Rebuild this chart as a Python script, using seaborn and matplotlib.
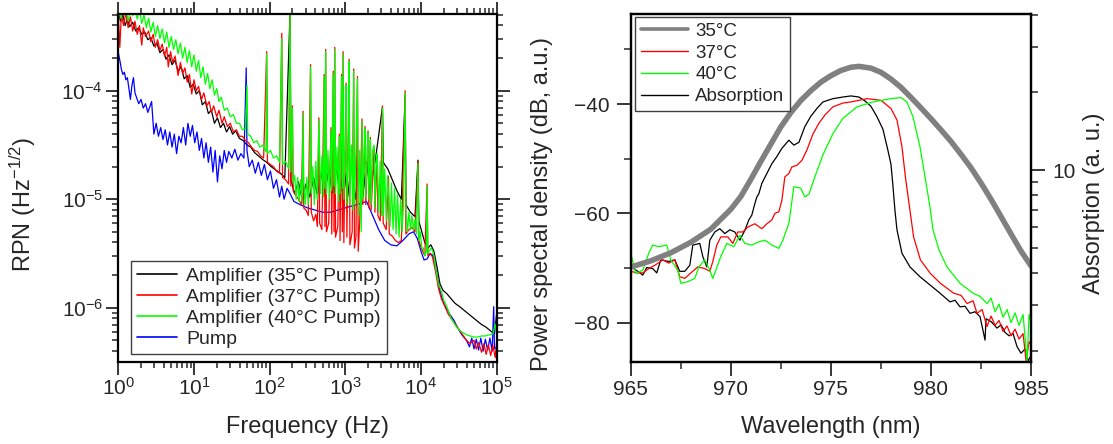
import numpy as np
import matplotlib
matplotlib.use('Agg')
import matplotlib.pyplot as plt
import matplotlib.ticker as mticker
from matplotlib.lines import Line2D
import seaborn as sns

# ---------------- left panel: RPN spectra as log10 values ----------------
amp35_logf = [0.00, 0.03, 0.06, 0.09, 0.12, 0.15, 0.19, 0.23, 0.27, 0.31, 0.35, 0.39, 0.43, 0.47, 0.51,
              0.55, 0.59, 0.63, 0.67, 0.71, 0.75, 0.79, 0.83, 0.87, 0.91, 0.95, 0.99, 1.03, 1.07, 1.11,
              1.15, 1.19, 1.23, 1.27, 1.31, 1.35, 1.39, 1.43, 1.47, 1.51, 1.55, 1.60, 1.65, 1.70, 1.75,
              1.80, 1.85, 1.90, 1.96, 2.02, 2.08, 2.14, 2.20, 2.27, 2.28, 2.33, 2.38, 2.43, 2.48, 2.53,
              2.58, 2.63, 2.68, 2.73, 2.78, 2.83, 2.88, 2.93, 2.98, 3.03, 3.08, 3.13, 3.18, 3.23, 3.28,
              3.33, 3.40, 3.49, 3.50, 3.56, 3.62, 3.68, 3.74, 3.79, 3.80,
              3.86, 3.92, 3.96, 3.97, 4.01, 4.05, 4.09, 4.13, 4.17, 4.21, 4.25, 4.29, 4.34, 4.40, 4.45,
              4.51, 4.58, 4.65, 4.72, 4.79, 4.86, 4.93, 4.97, 5.00]
amp35_logrpn = [-3.28, -3.36, -3.30, -3.40, -3.34, -3.41, -3.37, -3.45, -3.42, -3.48, -3.46, -3.53, -3.51, -3.59, -3.56,
                -3.65, -3.62, -3.71, -3.67, -3.76, -3.72, -3.82, -3.78, -3.89, -3.86, -3.97, -3.94, -4.03, -4.00, -4.13,
                -4.10, -4.21, -4.18, -4.30, -4.25, -4.34, -4.30, -4.38, -4.33, -4.40, -4.37, -4.44, -4.46, -4.50, -4.52,
                -4.57, -4.60, -4.63, -4.66, -4.70, -4.73, -4.76, -4.80, -3.25, -4.82, -4.95, -4.84, -5.00, -4.86, -4.98,
                -4.80, -4.96, -4.76, -4.95, -4.72, -4.94, -4.70, -4.96, -4.70, -4.98, -4.68, -5.00, -4.70, -4.98, -4.66,
                -4.90, -4.62, -4.15, -4.66, -4.72, -4.82, -4.92, -5.00, -4.05, -5.05,
                -5.12, -5.16, -4.64, -5.20, -5.30, -5.40, -5.45, -5.42, -5.48, -5.62, -5.78, -5.84, -5.87, -5.92, -5.96,
                -5.99, -6.03, -6.07, -6.11, -6.15, -6.18, -6.22, -6.24, -6.05]

pump_logf = [0.00, 0.02, 0.04, 0.06, 0.08, 0.10, 0.12, 0.14, 0.16, 0.18, 0.20, 0.22, 0.24, 0.27, 0.30,
             0.33, 0.36, 0.39, 0.42, 0.44, 0.47, 0.50, 0.53, 0.56, 0.59, 0.62, 0.65, 0.68, 0.71, 0.74,
             0.77, 0.80, 0.83, 0.86, 0.89, 0.92, 0.95, 0.98, 1.01, 1.04, 1.07, 1.10, 1.13, 1.16, 1.19,
             1.22, 1.25, 1.28, 1.31, 1.34, 1.37, 1.40, 1.43, 1.46, 1.50, 1.54, 1.58, 1.62, 1.66, 1.69,
             1.70, 1.73, 1.77, 1.81, 1.85, 1.89, 1.93, 1.97, 2.01, 2.05, 2.09, 2.13, 2.16, 2.19, 2.23,
             2.27, 2.32, 2.40, 2.50, 2.60, 2.70, 2.80, 2.90, 3.00, 3.10, 3.20, 3.28, 3.36, 3.44, 3.52,
             3.60, 3.68, 3.76, 3.84, 3.90, 3.95, 4.00, 4.04, 4.08, 4.12, 4.16, 4.20, 4.24, 4.28, 4.33,
             4.38, 4.43, 4.48, 4.54, 4.60, 4.64, 4.67, 4.70, 4.73, 4.76, 4.79, 4.82, 4.85, 4.88, 4.91,
             4.94, 4.96, 4.97, 5.00]
pump_logrpn = [-3.65, -3.72, -3.80, -3.85, -3.83, -3.90, -3.88, -3.98, -4.08, -3.95, -3.88, -4.02, -4.06, -4.12, -4.08,
               -4.16, -4.12, -4.20, -4.14, -4.10, -4.40, -4.30, -4.42, -4.34, -4.45, -4.36, -4.50, -4.38, -4.52, -4.40,
               -4.58, -4.42, -4.48, -4.34, -4.50, -4.30, -4.42, -4.32, -4.48, -4.38, -4.55, -4.44, -4.62, -4.48, -4.66,
               -4.52, -4.75, -4.55, -4.84, -4.60, -4.72, -4.55, -4.66, -4.56, -4.62, -4.54, -4.64, -4.58, -4.62, -3.79,
               -4.55, -4.70, -4.64, -4.76, -4.66, -4.78, -4.68, -4.82, -4.74, -4.90, -4.82, -4.98, -4.88, -5.00, -4.90,
               -4.95, -5.02, -5.05, -5.08, -5.10, -5.12, -5.12, -5.10, -5.08, -5.06, -5.04, -5.02, -5.15, -5.28, -5.38,
               -5.42, -5.43, -5.38, -5.32, -5.30, -5.36, -5.48, -5.56, -5.55, -5.50, -5.52, -5.66, -5.82, -5.92, -6.00,
               -6.06, -6.11, -6.18, -6.25, -6.30, -6.36, -6.28, -6.38, -6.29, -6.39, -6.28, -6.40, -6.29, -6.39, -6.28,
               -6.40, -5.99, -6.38, -6.36]

amp37_logf = [0.00, 0.02, 0.04, 0.07, 0.10, 0.13, 0.16, 0.19, 0.22, 0.25, 0.28, 0.31, 0.33, 0.36, 0.40,
              0.43, 0.46, 0.49, 0.52, 0.55, 0.58, 0.61, 0.64, 0.66, 0.69, 0.72, 0.75, 0.79, 0.82, 0.85,
              0.88, 0.91, 0.94, 0.97, 1.00, 1.03, 1.06, 1.10, 1.13, 1.17, 1.20, 1.23, 1.26, 1.30, 1.33,
              1.37, 1.40, 1.44, 1.48, 1.52, 1.56, 1.60, 1.64, 1.68, 1.72, 1.76, 1.80, 1.84, 1.88, 1.92,
              1.96, 1.97, 2.01, 2.05, 2.09, 2.13, 2.16, 2.17, 2.21, 2.25, 2.27, 2.28, 2.30, 2.31, 2.34,
              2.38, 2.42, 2.44, 2.45, 2.48, 2.51, 2.54, 2.55, 2.58, 2.61, 2.63, 2.65, 2.66, 2.69, 2.72,
              2.73, 2.74, 2.75, 2.78, 2.81, 2.82, 2.84, 2.85, 2.86, 2.87, 2.90, 2.92, 2.93, 2.95, 2.96,
              2.97, 2.98, 3.01, 3.02, 3.05, 3.06, 3.09, 3.11, 3.12, 3.14, 3.16, 3.17, 3.19, 3.22, 3.23,
              3.26, 3.27, 3.30, 3.31, 3.33, 3.34, 3.38, 3.39, 3.42, 3.43, 3.46, 3.49, 3.50, 3.54, 3.57,
              3.58, 3.62, 3.66, 3.70, 3.74, 3.79, 3.80, 3.84, 3.88, 3.92, 3.96, 3.97, 4.01, 4.05, 4.08,
              4.09, 4.12, 4.15, 4.19, 4.23, 4.27, 4.31, 4.36, 4.42, 4.48, 4.54, 4.60, 4.65, 4.70, 4.73,
              4.76, 4.80, 4.83, 4.86, 4.89, 4.92, 4.95, 4.98, 5.00]
amp37_logrpn = [-3.30, -3.60, -3.30, -3.40, -3.28, -3.42, -3.32, -3.45, -3.36, -3.48, -3.40, -3.58, -3.42, -3.50, -3.45,
                -3.55, -3.48, -3.60, -3.53, -3.63, -3.57, -3.68, -3.60, -3.78, -3.64, -3.74, -3.68, -3.86, -3.74, -3.84,
                -3.79, -3.92, -3.85, -4.03, -3.90, -4.00, -3.96, -4.08, -4.02, -4.14, -4.10, -4.20, -4.14, -4.24, -4.18,
                -4.30, -4.24, -4.33, -4.30, -4.38, -4.36, -4.42, -4.42, -4.46, -4.48, -4.52, -4.55, -4.56, -4.60, -4.62,
                -3.64, -4.66, -4.68, -4.70, -4.74, -4.76, -3.47, -4.80, -4.82, -4.86, -3.20, -4.88, -4.14, -4.92, -4.96,
                -5.00, -5.05, -4.19, -5.08, -5.10, -5.15, -3.76, -5.12, -5.20, -5.14, -5.25, -4.25, -5.22, -5.28, -3.85,
                -5.25, -3.62, -5.30, -5.22, -4.34, -5.32, -3.82, -5.30, -3.60, -5.35, -5.25, -4.40, -5.38, -3.85, -5.30,
                -3.64, -5.40, -3.93, -5.35, -3.71, -5.42, -5.30, -3.80, -5.45, -5.35, -3.87, -5.48, -5.20, -4.26, -5.05,
                -4.33, -5.05, -4.37, -5.08, -4.43, -5.10, -4.53, -5.12, -4.59, -5.15, -5.20, -4.14, -5.22, -5.28, -4.79,
                -5.32, -5.34, -5.38, -5.40, -5.38, -4.00, -5.32, -5.28, -5.26, -5.30, -4.65, -5.38, -5.46, -5.52, -4.86,
                -5.52, -5.50, -5.53, -5.66, -5.82, -5.92, -5.98, -6.06, -6.12, -6.18, -6.24, -6.30, -6.33, -6.30, -6.38,
                -6.32, -6.41, -6.33, -6.43, -6.34, -6.44, -6.35, -6.46, -6.30]

amp40_logf = [0.00, 0.02, 0.04, 0.06, 0.08, 0.10, 0.13, 0.16, 0.19, 0.22, 0.25, 0.28, 0.31, 0.34, 0.37,
              0.40, 0.43, 0.46, 0.49, 0.52, 0.55, 0.58, 0.61, 0.64, 0.67, 0.70, 0.73, 0.76, 0.79, 0.82,
              0.85, 0.88, 0.91, 0.94, 0.97, 1.00, 1.03, 1.06, 1.09, 1.12, 1.15, 1.18, 1.21, 1.24, 1.27,
              1.30, 1.33, 1.36, 1.40, 1.44, 1.48, 1.52, 1.56, 1.60, 1.64, 1.68, 1.70, 1.71, 1.75, 1.79,
              1.83, 1.87, 1.91, 1.95, 1.96, 1.97, 2.01, 2.05, 2.09, 2.13, 2.16, 2.17, 2.21, 2.25, 2.27,
              2.28, 2.30, 2.31, 2.33, 2.35, 2.37, 2.39, 2.41, 2.43, 2.44, 2.45, 2.47, 2.49, 2.51, 2.53,
              2.54, 2.55, 2.57, 2.59, 2.61, 2.63, 2.65, 2.67, 2.69, 2.71, 2.72, 2.73, 2.74, 2.75, 2.77,
              2.79, 2.81, 2.82, 2.84, 2.85, 2.86, 2.87, 2.89, 2.91, 2.92, 2.93, 2.95, 2.96, 2.97, 2.98,
              3.00, 3.01, 3.02, 3.04, 3.05, 3.06, 3.08, 3.10, 3.11, 3.12, 3.14, 3.16, 3.17, 3.19, 3.21,
              3.22, 3.23, 3.25, 3.26, 3.27, 3.29, 3.30, 3.31, 3.33, 3.34, 3.36, 3.38, 3.39, 3.41, 3.42,
              3.44, 3.46, 3.48, 3.49, 3.50, 3.52, 3.54, 3.56, 3.59, 3.61, 3.63, 3.65, 3.67, 3.69, 3.71,
              3.73, 3.75, 3.77, 3.79, 3.80, 3.82, 3.84, 3.86, 3.88, 3.90, 3.92, 3.94, 3.96, 3.97, 3.99,
              4.01, 4.03, 4.05, 4.07, 4.08, 4.09, 4.11, 4.13, 4.15, 4.17, 4.19, 4.23, 4.27, 4.30, 4.34,
              4.40, 4.47, 4.53, 4.60, 4.65, 4.70, 4.75, 4.80, 4.85, 4.90, 4.95, 4.98, 5.00]
amp40_logrpn = [-3.35, -3.25, -3.33, -3.22, -3.30, -3.24, -3.36, -3.25, -3.31, -3.24, -3.34, -3.26, -3.38, -3.30, -3.42,
                -3.33, -3.46, -3.37, -3.50, -3.40, -3.52, -3.43, -3.56, -3.46, -3.60, -3.50, -3.62, -3.53, -3.66, -3.56,
                -3.70, -3.60, -3.74, -3.63, -3.78, -3.67, -3.82, -3.72, -3.88, -3.78, -3.94, -3.84, -3.98, -3.90, -4.04,
                -3.98, -4.10, -4.06, -4.18, -4.16, -4.24, -4.22, -4.30, -4.30, -4.36, -4.35, -3.95, -4.40, -4.42, -4.48,
                -4.46, -4.52, -4.50, -4.56, -3.66, -4.58, -4.55, -4.62, -4.60, -4.66, -3.52, -4.68, -4.65, -4.72, -3.20,
                -4.75, -4.16, -4.85, -4.78, -5.00, -4.80, -5.02, -4.82, -5.04, -4.21, -4.85, -5.05, -4.80, -5.05, -4.75,
                -3.78, -4.95, -4.70, -5.05, -4.65, -5.00, -4.27, -4.95, -4.60, -4.98, -3.87, -4.90, -3.64, -4.95, -4.55,
                -5.00, -4.36, -4.92, -3.84, -4.88, -3.62, -4.95, -4.52, -5.02, -4.42, -4.95, -3.87, -4.90, -3.66, -5.00,
                -4.50, -3.95, -5.05, -4.55, -3.73, -5.05, -4.50, -5.10, -3.82, -5.05, -4.55, -3.89, -5.15, -4.55, -5.30,
                -4.28, -5.00, -4.52, -4.35, -4.98, -4.55, -4.39, -5.00, -4.45, -5.05, -4.55, -4.50, -5.08, -4.60, -4.58,
                -5.12, -4.65, -5.15, -4.16, -5.15, -4.72, -5.20, -4.78, -5.25, -4.85, -5.28, -4.90, -5.32, -4.95, -5.35,
                -5.00, -5.30, -5.02, -4.02, -5.10, -5.30, -5.12, -5.28, -5.15, -5.28, -5.18, -5.32, -4.67, -5.38, -5.30,
                -5.45, -5.45, -5.52, -5.48, -4.88, -5.50, -5.48, -5.45, -5.47, -5.52, -5.62, -5.78, -5.85, -5.93, -5.99,
                -6.10, -6.18, -6.22, -6.25, -6.26, -6.27, -6.27, -6.26, -6.26, -6.25, -6.24, -6.15, -6.25]

# ---------------- right panel: emission spectra (dB) and absorption (a. u.) ----------------
t35_wl = [965.0, 965.4, 965.6, 965.8, 966.1, 966.3, 966.5, 966.9, 967.2, 967.45, 967.7, 967.95, 968.1, 968.45,
          968.6, 968.8, 968.95, 969.2, 969.45, 969.7, 969.95, 970.2, 970.45, 970.7, 970.9, 971.05, 971.2, 971.3,
          971.4, 971.55, 971.8, 972.05, 972.3, 972.55, 972.9, 973.15, 973.4, 973.7, 974.0, 974.3, 974.6, 975.1,
          975.6, 976.0, 976.4, 976.7, 977.0, 977.3, 977.6, 977.85, 978.0, 978.1, 978.2, 978.3, 978.55, 978.95,
          979.45, 979.95, 980.45, 980.95, 981.2, 981.45, 981.7, 981.95, 982.2, 982.45, 982.7, 982.75, 983.0,
          983.3, 983.5, 983.7, 983.9, 984.1, 984.3, 984.5, 984.7, 984.85, 985.0]
t35_db = [-69.8, -70.7, -71.3, -69.9, -70.1, -70.9, -68.5, -68.8, -68.5, -70.6, -70.6, -69.5, -65.8, -65.5,
          -67.9, -69.8, -64.9, -63.4, -62.8, -63.7, -63.0, -63.4, -64.9, -63.1, -61.2, -60.3, -58.2, -57.0,
          -56.4, -54.5, -52.7, -50.9, -49.6, -48.1, -46.6, -47.5, -47.0, -44.1, -42.2, -40.8, -39.6, -39.0,
          -38.7, -38.5, -38.7, -39.4, -40.4, -42.3, -44.6, -48.5, -51.0, -55.0, -59.5, -63.0, -67.3, -69.8,
          -71.6, -73.1, -74.6, -76.2, -75.9, -77.1, -77.0, -78.3, -78.0, -78.9, -83.2, -79.3, -79.8,
          -81.0, -80.4, -81.8, -82.4, -82.0, -84.4, -85.6, -84.8, -87.0, -86.0]

t37_wl = [965.0, 965.3, 965.6, 965.9, 966.2, 966.6, 966.9, 967.2, 967.45, 967.7, 968.0, 968.35, 968.7, 968.95,
          969.1, 969.3, 969.5, 969.85, 970.1, 970.35, 970.6, 970.85, 971.2, 971.55, 971.8, 972.05, 972.2, 972.4,
          972.55, 972.7, 972.9, 973.05, 973.3, 973.55, 973.8, 974.1, 974.4, 974.7, 975.1, 975.6, 976.0, 976.8,
          977.5, 978.0, 978.3, 978.55, 978.72, 978.88, 979.13, 979.47, 979.97, 980.47, 981.13, 981.5, 981.8,
          982.1, 982.3, 982.55, 982.8, 983.0, 983.2, 983.4, 983.6, 983.8, 984.0, 984.2, 984.4, 984.6, 984.75,
          984.9, 985.0]
t37_db = [-70.6, -70.9, -70.9, -70.1, -69.5, -68.5, -69.1, -68.5, -71.6, -71.9, -70.9, -69.8, -70.1, -70.6,
          -68.8, -65.8, -64.3, -64.3, -65.5, -63.4, -63.4, -62.5, -61.9, -62.8, -61.9, -61.2, -60.0, -59.7,
          -57.6, -53.3, -52.7, -51.5, -51.2, -50.3, -48.4, -45.5, -43.5, -42.0, -40.5, -39.8, -39.6, -39.0,
          -39.3, -40.8, -42.9, -47.8, -53.3, -57.6, -64.3, -68.5, -71.0, -72.8, -74.6, -75.0, -76.5,
          -76.0, -78.3, -77.6, -80.7, -78.8, -80.5, -79.6, -81.6, -80.6, -82.4, -81.2, -83.0, -82.0, -87.0,
          -83.5, -84.0]

t40_wl = [965.0, 965.25, 965.6, 965.9, 966.1, 966.4, 966.8, 967.0, 967.35, 967.5, 967.85, 968.2, 968.4, 968.7,
          968.9, 969.1, 969.2, 969.5, 969.8, 970.15, 970.45, 970.7, 971.05, 971.4, 971.7, 972.05, 972.4, 972.6,
          972.9, 973.15, 973.5, 973.7, 973.9, 974.2, 974.6, 975.1, 975.6, 976.3, 977.1, 978.0, 978.5, 978.8,
          979.1, 979.45, 979.7, 979.95, 980.1, 980.4, 980.8, 981.45, 982.1, 982.45, 982.8, 983.0, 983.2, 983.4,
          983.6, 983.8, 984.0, 984.2, 984.4, 984.6, 984.8, 984.9, 985.0]
t40_db = [-67.3, -71.0, -70.4, -67.3, -65.8, -66.1, -65.8, -68.5, -70.4, -72.8, -72.5, -71.9, -69.8, -68.5,
          -70.0, -71.9, -70.9, -67.9, -65.5, -66.1, -64.0, -65.5, -65.8, -65.2, -64.9, -65.8, -66.4, -64.9,
          -61.8, -55.1, -55.4, -57.0, -56.5, -53.3, -49.3, -45.4, -42.6, -40.5, -39.6, -39.0, -38.8, -39.6,
          -42.3, -47.8, -53.3, -58.8, -63.0, -66.7, -69.8, -72.8, -74.6, -75.2, -76.5, -75.5, -78.0, -76.6,
          -79.0, -77.6, -80.0, -78.2, -80.5, -78.5, -87.0, -78.5, -80.0]

absorb_wl = [965.0, 966.0, 967.0, 968.0, 969.0, 970.0, 970.5, 971.0, 971.5, 972.0, 972.5, 973.0, 973.5, 974.0,
             974.5, 975.0, 975.5, 976.0, 976.4, 977.0, 977.5, 978.0, 978.5, 979.0, 979.5, 980.0, 980.5, 981.0,
             981.5, 982.0, 982.5, 983.0, 983.5, 984.0, 984.5, 985.0]
absorb_au = [4.21, 4.45, 4.78, 5.25, 5.90, 7.05, 7.9, 9.2, 10.8, 12.6, 14.7, 16.7, 18.6, 20.3,
             21.9, 23.2, 24.3, 25.0, 25.2, 24.8, 23.9, 22.5, 20.9, 19.1, 17.4, 15.8, 14.3, 12.9,
             11.5, 10.2, 8.9, 7.7, 6.6, 5.65, 4.85, 4.25]

rpn_labels = ['Amplifier (35°C Pump)', 'Amplifier (37°C Pump)', 'Amplifier (40°C Pump)', 'Pump']
psd_labels = ['35°C', '37°C', '40°C', 'Absorption']

sns.set_theme(style='ticks')
plt.rcParams['font.family'] = ['Liberation Sans', 'DejaVu Sans']
plt.rcParams['mathtext.default'] = 'regular'
plt.rcParams['axes.linewidth'] = 1.6
plt.rcParams['axes.edgecolor'] = 'black'

fig = plt.figure(figsize=(11.13, 4.44), dpi=100)
ax1 = fig.add_axes([0.1063, 0.1847, 0.340, 0.7838])
ax2 = fig.add_axes([0.5667, 0.1847, 0.3597, 0.7838])

# ---- left panel ----
ax1.set_xscale('log')
ax1.set_yscale('log')
series = [(amp35_logf, amp35_logrpn, 'black'),
          (pump_logf, pump_logrpn, '#0000ff'),
          (amp37_logf, amp37_logrpn, '#ff0000'),
          (amp40_logf, amp40_logrpn, '#00ff00')]
for lf, lv, c in series:
    sns.lineplot(x=10 ** np.array(lf), y=10 ** np.array(lv), ax=ax1, color=c, lw=0.9,
                 sort=False, estimator=None)
ax1.set_xlim(1, 1e5)
ax1.set_ylim(10 ** -6.5, 10 ** -3.293)
ax1.xaxis.set_major_locator(mticker.LogLocator(base=10, numticks=10))
ax1.xaxis.set_minor_locator(mticker.LogLocator(base=10, subs=np.arange(2, 10), numticks=20))
ax1.yaxis.set_minor_locator(mticker.LogLocator(base=10, subs=np.arange(2, 10), numticks=20))
ax1.xaxis.set_minor_formatter(mticker.NullFormatter())
ax1.yaxis.set_minor_formatter(mticker.NullFormatter())
ax1.tick_params(which='major', direction='out', length=9, width=1.3, labelsize=15, pad=2,
                top=True, right=True)
ax1.tick_params(which='minor', direction='out', length=4.5, width=1.1, top=True, right=True)
ax1.set_xlabel('Frequency (Hz)', fontsize=17, labelpad=12)
ax1.set_ylabel('RPN (Hz$^{-1/2}$)', fontsize=17)
ax1.yaxis.set_label_coords(-0.212, 0.453)

h1 = [Line2D([], [], color='black', lw=1.2), Line2D([], [], color='#ff0000', lw=1.2),
      Line2D([], [], color='#00ff00', lw=1.2), Line2D([], [], color='#0000ff', lw=1.2)]
leg1 = ax1.legend(h1, rpn_labels, loc='lower left', bbox_to_anchor=(0.033, 0.023), borderaxespad=0,
                  fancybox=False, edgecolor='#404040', fontsize=14, handlelength=2.1,
                  handletextpad=0.45, labelspacing=0.18, borderpad=0.3, framealpha=1)
leg1.get_frame().set_linewidth(1.0)

# ---- right panel ----
for wl, db, c in [(t35_wl, t35_db, 'black'), (t37_wl, t37_db, '#ff0000'), (t40_wl, t40_db, '#00ff00')]:
    sns.lineplot(x=wl, y=db, ax=ax2, color=c, lw=0.9, sort=False, estimator=None)
ax2.set_xlim(965, 985)
ax2.set_ylim(-87.2, -23.5)
ax2.xaxis.set_major_locator(mticker.MultipleLocator(5))
ax2.xaxis.set_minor_locator(mticker.MultipleLocator(2.5))
ax2.yaxis.set_major_locator(mticker.MultipleLocator(20))
ax2.yaxis.set_minor_locator(mticker.MultipleLocator(10))
ax2.tick_params(which='major', direction='out', length=10, width=1.3, labelsize=15, pad=5)
ax2.tick_params(axis='x', which='major', pad=3)
ax2.tick_params(which='minor', direction='out', length=5, width=1.1)
ax2.set_xlabel('Wavelength (nm)', fontsize=17, labelpad=12)
ax2.set_ylabel('Power spectal density (dB, a.u.)', fontsize=17)
ax2.yaxis.set_label_coords(-0.195, 0.455)

ax3 = ax2.twinx()
ax3.set_yscale('log')
sns.lineplot(x=absorb_wl, y=absorb_au, ax=ax3, color='#808080', lw=4.0, sort=False, estimator=None)
ax3.set_ylim(1.806, 40.2)
ax3.yaxis.set_major_locator(mticker.FixedLocator([10]))
ax3.yaxis.set_major_formatter(mticker.FixedFormatter(['10']))
ax3.yaxis.set_minor_locator(mticker.LogLocator(base=10, subs=np.arange(2, 10), numticks=20))
ax3.yaxis.set_minor_formatter(mticker.NullFormatter())
ax3.tick_params(which='major', direction='out', length=10, width=1.3, labelsize=15, pad=5)
ax3.tick_params(which='minor', direction='out', length=5, width=1.1)
ax3.set_ylabel('Absorption (a. u.)', fontsize=17)
ax3.yaxis.set_label_coords(1.130, 0.455)
for a in (ax2, ax3):
    for s in a.spines.values():
        s.set_linewidth(1.6)

h2 = [Line2D([], [], color='#808080', lw=2.6), Line2D([], [], color='#ff0000', lw=1.0),
      Line2D([], [], color='#00ff00', lw=1.0), Line2D([], [], color='black', lw=1.0)]
leg2 = ax3.legend(h2, psd_labels, loc='upper left', bbox_to_anchor=(0.011, 0.991), borderaxespad=0,
                  fancybox=False, edgecolor='#404040', fontsize=13.5, handlelength=2.5,
                  handletextpad=0.4, labelspacing=0.25, borderpad=0.3, framealpha=1)
leg2.get_frame().set_linewidth(1.0)

fig.savefig('out.png', dpi=100)
